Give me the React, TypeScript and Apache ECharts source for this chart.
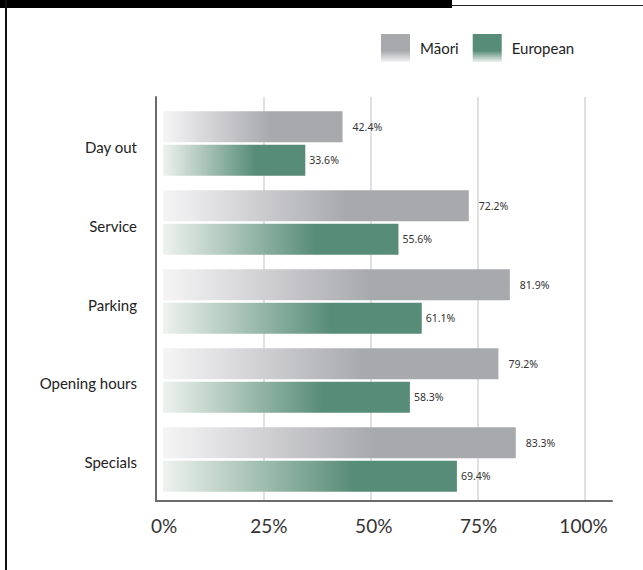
import React, { useEffect, useRef } from "react";
import * as echarts from "echarts";

const categories = ["Day out", "Service", "Parking", "Opening hours", "Specials"];
const maoriValues = [42.4, 72.2, 81.9, 79.2, 83.3];
const europeanValues = [33.6, 55.6, 61.1, 58.3, 69.4];
const seriesNames = ["Māori", "European"];
const tickValues = [0, 25, 50, 75, 100];

const FONT = "Lato, 'Noto Sans', sans-serif";
const GRAY = "#a8a9ad";
const GREEN = "#578c78";

const hGrad = (start: string, end: string, stop: number) =>
  new echarts.graphic.LinearGradient(0, 0, 1, 0, [
    { offset: 0, color: start },
    { offset: stop, color: end },
    { offset: 1, color: end },
  ]);
const vGrad = (end: string, start: string) =>
  new echarts.graphic.LinearGradient(0, 0, 0, 1, [
    { offset: 0, color: end },
    { offset: 0.6, color: end },
    { offset: 1, color: start },
  ]);

export default function App() {
  const ref = useRef<HTMLDivElement>(null);
  useEffect(() => {
    if (!ref.current) return;
    const chart = echarts.init(ref.current, undefined, { renderer: "svg" });
    const hiddenCat = {
      type: "category" as const,
      data: categories,
      show: false,
    };
    chart.setOption({
      animation: false,
      backgroundColor: "#ffffff",
      graphic: [
        { type: "rect", x: 0, y: 0, shape: { x: 0, y: 0, width: 452, height: 8 }, style: { fill: "#000" } },
        { type: "line", shape: { x1: 452, y1: 5.5, x2: 643, y2: 5.5 }, style: { stroke: "#222", lineWidth: 1 } },
        { type: "line", shape: { x1: 6, y1: 0, x2: 6, y2: 570 }, style: { stroke: "#111", lineWidth: 2 } },
      ],
      legend: {
        left: 376,
        top: 29,
        itemWidth: 29,
        itemHeight: 28,
        itemGap: 14,
        icon: "rect",
        textStyle: { fontFamily: FONT, fontSize: 15, color: "#222", padding: [0, 0, 0, 5] },
        data: [
          { name: seriesNames[0], itemStyle: { color: vGrad(GRAY, "#f4f4f5") } },
          { name: seriesNames[1], itemStyle: { color: vGrad(GREEN, "#eef2ef") } },
        ],
      },
      grid: [
        // gridlines
        { left: 156, width: 429, top: 97, height: 404 },
        // axis lines
        { left: 156, width: 456, top: 97, height: 404 },
        // bars
        { left: 163, width: 423.5, top: 104, height: 395 },
        // x labels and category labels
        { left: 164, width: 419.5, top: 108, height: 393 },
      ],
      xAxis: [
        {
          gridIndex: 0, type: "value", min: 0, max: 100, interval: 25,
          axisLine: { show: false }, axisTick: { show: false }, axisLabel: { show: false },
          splitLine: { show: true, lineStyle: { color: "#d6d6d6", width: 1.5 } },
        },
        {
          gridIndex: 1, type: "value", min: 0, max: 100,
          axisLine: { show: true, lineStyle: { color: "#6b6b6b", width: 2 } },
          axisTick: { show: false }, axisLabel: { show: false }, splitLine: { show: false },
        },
        {
          gridIndex: 2, type: "value", min: 0, max: 100, show: false,
        },
        {
          gridIndex: 3, type: "value", min: 0, max: 100, interval: 25,
          axisLine: { show: false }, axisTick: { show: false }, splitLine: { show: false },
          axisLabel: {
            show: true, margin: 15, fontFamily: FONT, fontSize: 19, color: "#333",
            formatter: (v: number) => (tickValues.includes(v) ? `${v}%` : ""),
          },
        },
      ],
      yAxis: [
        { gridIndex: 0, ...hiddenCat },
        {
          gridIndex: 1, type: "value", min: 0, max: 1,
          axisLine: { show: true, lineStyle: { color: "#6b6b6b", width: 2 } },
          axisTick: { show: false }, axisLabel: { show: false }, splitLine: { show: false },
        },
        { gridIndex: 2, type: "category", data: categories, inverse: true, show: false },
        {
          gridIndex: 3, type: "category", data: categories, inverse: true,
          axisLine: { show: false }, axisTick: { show: false },
          axisLabel: { margin: 27, fontFamily: FONT, fontSize: 15, color: "#222" },
        },
      ],
      series: [
        {
          name: seriesNames[0], type: "bar", xAxisIndex: 2, yAxisIndex: 2,
          data: maoriValues, barWidth: 31, barGap: "8%",
          itemStyle: { color: hGrad("#f6f5f6", GRAY, 0.6) },
          label: {
            show: true, position: "right", distance: 10, formatter: "{c}%",
            fontFamily: "'Noto Sans', sans-serif", fontSize: 10.5, color: "#333",
          },
        },
        {
          name: seriesNames[1], type: "bar", xAxisIndex: 2, yAxisIndex: 2,
          data: europeanValues, barWidth: 31, barGap: "8%",
          itemStyle: { color: hGrad("#eef2ef", GREEN, 0.65) },
          label: {
            show: true, position: "right", distance: 4, formatter: "{c}%",
            fontFamily: "'Noto Sans', sans-serif", fontSize: 10.5, color: "#333",
          },
        },
      ],
    });
    return () => chart.dispose();
  }, []);
  return (
    <div
      ref={ref}
      style={{ position: "fixed", left: 0, top: 0, width: 643, height: 570 }}
    />
  );
}
